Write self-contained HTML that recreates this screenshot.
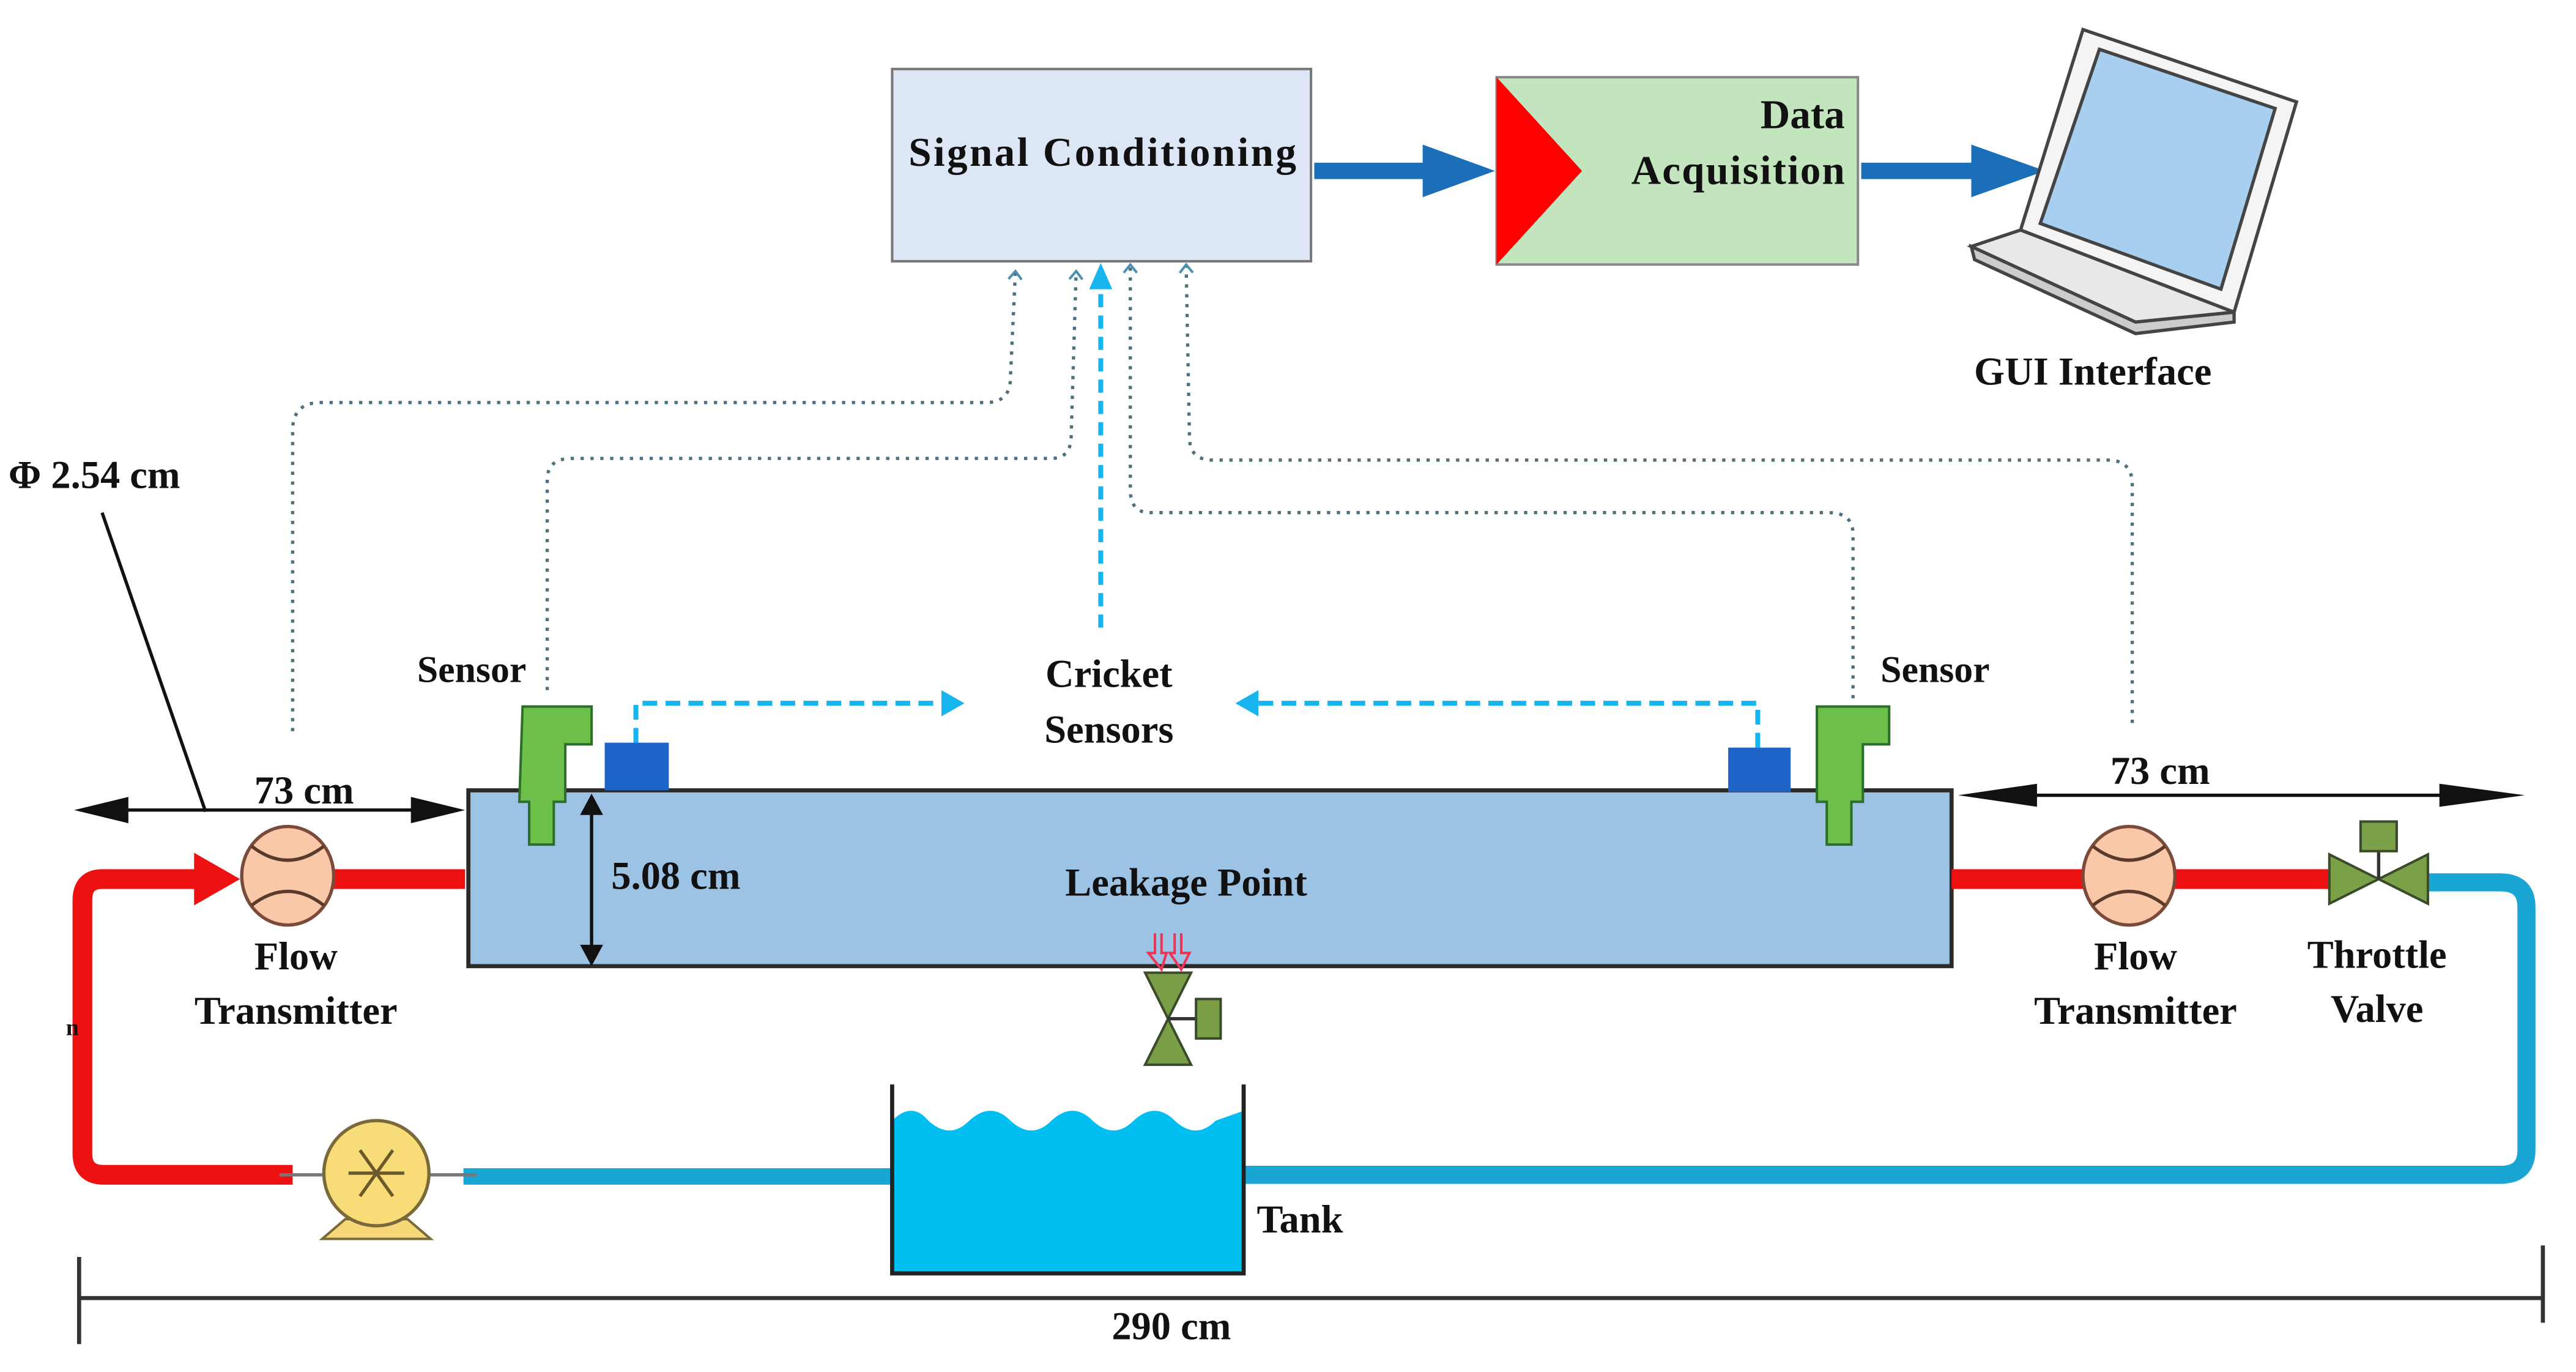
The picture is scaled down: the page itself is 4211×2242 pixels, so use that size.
<!DOCTYPE html>
<html><head><meta charset="utf-8"><style>
html,body{margin:0;padding:0;background:#fff;}
svg{display:block;}
text{font-family:"Liberation Serif",serif;font-weight:bold;fill:#111;}
</style></head><body>
<svg width="4211" height="2242" viewBox="0 0 1568 835" xmlns="http://www.w3.org/2000/svg">
<defs>
<marker id="cy" markerWidth="8" markerHeight="8" refX="6" refY="4" orient="auto" markerUnits="userSpaceOnUse"><path d="M0,0 L8,4 L0,8 Z" fill="#18b4ee"/></marker>
<marker id="ch" markerWidth="10" markerHeight="10" refX="5" refY="5" orient="auto" markerUnits="userSpaceOnUse"><path d="M1,1 L6,5 L1,9" fill="none" stroke="#4a90b0" stroke-width="1.5"/></marker>
</defs>
<rect width="1568" height="835" fill="#fff"/>

<!-- Signal conditioning -->
<rect x="543" y="42" width="255" height="117" fill="#dce6f4" stroke="#777" stroke-width="1.5"/>
<text x="671" y="101" font-size="25" text-anchor="middle" textLength="236">Signal Conditioning</text>
<!-- arrow 1 -->
<line x1="800" y1="104" x2="870" y2="104" stroke="#1a6fb8" stroke-width="10"/>
<path d="M866,88 L910,104 L866,120 Z" fill="#1a6fb8"/>
<!-- Data acquisition -->
<rect x="911" y="47" width="220" height="114" fill="#c3e5bd" stroke="#888" stroke-width="1.5"/>
<path d="M911,47 L963,104 L911,161 Z" fill="#f00"/>
<text x="1123" y="78" font-size="25" text-anchor="end">Data</text>
<text x="1123" y="112" font-size="25" text-anchor="end" textLength="130">Acquisition</text>
<line x1="1133" y1="104" x2="1205" y2="104" stroke="#1a6fb8" stroke-width="10"/>
<path d="M1200,88 L1245,104 L1200,120 Z" fill="#1a6fb8"/>
<!-- laptop -->
<g stroke="#444" stroke-width="2" fill="#f4f4f4">
<path d="M1268,18 L1398,62 L1360,190 L1230,140 Z"/>
<path d="M1278,30 L1385,66 L1352,176 L1242,136 Z" fill="#a9cff0"/>
<path d="M1230,140 L1200,150 L1300,196 L1360,190 Z" fill="#e8e8e8"/>
<path d="M1200,150 L1202,158 L1300,203 L1360,196 L1360,190 L1300,196 Z" fill="#ccc"/>
</g>
<text x="1274" y="234" font-size="24" text-anchor="middle">GUI Interface</text>

<!-- phi -->
<text x="5" y="297" font-size="24">Φ 2.54 cm</text>
<line x1="62" y1="312" x2="125" y2="494" stroke="#111" stroke-width="2"/>

<!-- dotted signal lines -->
<g fill="none" stroke="#50707e" stroke-width="2" stroke-dasharray="2,4">
<path d="M178,445 L178,262 Q178,245 195,245 L600,245 Q615,245 615,230 L618,166" marker-end="url(#ch)"/>
<path d="M333,420 L333,292 Q333,279 348,279 L640,279 Q652,279 652,265 L655,166" marker-end="url(#ch)"/>
<path d="M1128,425 L1128,325 Q1128,312 1113,312 L700,312 Q688,312 688,298 L688,162" marker-end="url(#ch)"/>
<path d="M1298,440 L1298,295 Q1298,280 1283,280 L738,280 Q724,280 724,266 L722,162" marker-end="url(#ch)"/>
</g>
<path d="M670,382 L670,172" stroke="#18b4ee" stroke-width="3" stroke-dasharray="8,5" fill="none"/>
<path d="M663,176 L670,160 L677,176 Z" fill="#18b4ee"/>
<path d="M387,452 L387,428 L578,428" stroke="#18b4ee" stroke-width="3" stroke-dasharray="9,5" fill="none"/>
<path d="M573,420 L587,428 L573,436 Z" fill="#18b4ee"/>
<path d="M1070,455 L1070,428 L762,428" stroke="#18b4ee" stroke-width="3" stroke-dasharray="9,5" fill="none"/>
<path d="M766,420 L752,428 L766,436 Z" fill="#18b4ee"/>
<text x="675" y="418" font-size="24" text-anchor="middle">Cricket</text>
<text x="675" y="452" font-size="24" text-anchor="middle">Sensors</text>
<text x="287" y="415" font-size="23" text-anchor="middle">Sensor</text>
<text x="1178" y="415" font-size="23" text-anchor="middle">Sensor</text>

<!-- pipe body -->
<rect x="285" y="481" width="903" height="107" fill="#9cc3e4" stroke="#2a2a2a" stroke-width="2.5"/>
<rect x="368" y="452" width="39" height="29" fill="#1e64c8"/>
<rect x="1052" y="455" width="38" height="27" fill="#1e64c8"/>
<!-- green sensors -->
<g fill="#6cc04a" stroke="#2d6e2a" stroke-width="1.5">
<path d="M318,430 L360,430 L360,453 L344,453 L344,488 L337,488 L337,514 L322,514 L322,488 L316,488 Z"/>
<path d="M1106,430 L1150,430 L1150,453 L1134,453 L1134,488 L1127,488 L1127,514 L1112,514 L1112,488 L1106,488 Z"/>
</g>
<!-- 5.08 -->
<line x1="360" y1="492" x2="360" y2="578" stroke="#111" stroke-width="2"/>
<path d="M353,496 L360,483 L367,496 Z M353,575 L360,588 L367,575 Z" fill="#111"/>
<text x="372" y="541" font-size="24">5.08 cm</text>
<text x="722" y="545" font-size="24" text-anchor="middle">Leakage Point</text>
<!-- leak valve -->
<path d="M703,568 L703,580 L699,580 L707,590 L710,580 L707,580 L707,568 M715,568 L715,580 L712,580 L719,590 L724,580 L719,580 L719,568" fill="none" stroke="#ee3355" stroke-width="1.5"/>
<path d="M697,592 L725,592 L711,620 Z M697,648 L725,648 L711,620 Z" fill="#7a9e46" stroke="#3a4a2a" stroke-width="1.5"/>
<line x1="711" y1="620" x2="728" y2="620" stroke="#333" stroke-width="2"/>
<rect x="728" y="608" width="15" height="24" fill="#7a9e46" stroke="#3a4a2a" stroke-width="1.5"/>

<!-- 73 cm left -->
<line x1="70" y1="493" x2="258" y2="493" stroke="#111" stroke-width="2"/>
<path d="M45,493 L78,485 L78,501 Z M283,493 L250,485 L250,501 Z" fill="#111"/>
<text x="185" y="489" font-size="24" text-anchor="middle">73 cm</text>
<!-- 73 cm right -->
<line x1="1220" y1="484" x2="1500" y2="484" stroke="#111" stroke-width="2"/>
<path d="M1192,484 L1240,477 L1240,491 Z M1537,484 L1485,477 L1485,491 Z" fill="#111"/>
<text x="1315" y="477" font-size="24" text-anchor="middle">73 cm</text>

<!-- red pipes -->
<path d="M283,535 L200,535" stroke="#ee1111" stroke-width="12" fill="none"/>
<path d="M120,535 L62,535 Q50,535 50,548 L50,702 Q50,715 63,715 L178,715" stroke="#ee1111" stroke-width="12" fill="none"/>
<path d="M118,519 L146,535 L118,551 Z" fill="#ee1111"/>
<path d="M1188,535 L1420,535" stroke="#ee1111" stroke-width="12" fill="none"/>
<!-- blue pipes -->
<path d="M282,716 L545,716" stroke="#1aa6d4" stroke-width="10" fill="none"/>
<path d="M757,715 L1522,715 Q1538,715 1538,700 L1538,552 Q1538,537 1522,537 L1478,537" stroke="#1aa6d4" stroke-width="11" fill="none"/>
<!-- flow transmitters -->
<g fill="#f9c8a8" stroke="#7a4a3a" stroke-width="2">
<ellipse cx="175" cy="533" rx="28" ry="30"/>
<ellipse cx="1296" cy="533" rx="28" ry="30"/>
</g>
<g fill="none" stroke="#5a3a2a" stroke-width="2">
<path d="M153,515 Q175,532 197,515 M153,551 Q175,534 197,551"/>
<path d="M1274,515 Q1296,532 1318,515 M1274,551 Q1296,534 1318,551"/>
</g>
<text x="180" y="590" font-size="24" text-anchor="middle">Flow</text>
<text x="180" y="623" font-size="24" text-anchor="middle">Transmitter</text>
<text x="1300" y="590" font-size="24" text-anchor="middle">Flow</text>
<text x="1300" y="623" font-size="24" text-anchor="middle">Transmitter</text>
<!-- throttle valve -->
<path d="M1418,520 L1418,550 L1448,535 Z M1478,520 L1478,550 L1448,535 Z" fill="#7aa048" stroke="#3a4a2a" stroke-width="1.5"/>
<line x1="1448" y1="535" x2="1448" y2="517" stroke="#333" stroke-width="2"/>
<rect x="1437" y="500" width="22" height="18" fill="#7aa048" stroke="#3a4a2a" stroke-width="1.5"/>
<text x="1447" y="589" font-size="24" text-anchor="middle">Throttle</text>
<text x="1447" y="622" font-size="24" text-anchor="middle">Valve</text>
<text x="40" y="630" font-size="14" font-weight="normal">n</text>

<!-- pump -->
<path d="M210,742 L248,742 L262,754 L196,754 Z" fill="#f6d878" stroke="#7a6a3a" stroke-width="1.5"/>
<line x1="170" y1="715" x2="290" y2="715" stroke="#777" stroke-width="2"/>
<ellipse cx="229" cy="714" rx="32" ry="32" fill="#f8dc78" stroke="#7a6a3a" stroke-width="2"/>
<path d="M212,714 L246,714 M219,700 L239,728 M239,700 L219,728" stroke="#6a5a2a" stroke-width="2"/>

<!-- tank -->
<path d="M543,682 Q555,670 565,682 Q578,694 590,682 Q603,670 615,682 Q628,694 640,682 Q653,670 665,682 Q678,694 690,682 Q703,670 715,682 Q728,694 740,682 L757,676 L757,775 L543,775 Z" fill="#00bff0"/>
<path d="M543,660 L543,775 L757,775 L757,660" fill="none" stroke="#222" stroke-width="2.5"/>
<text x="765" y="750" font-size="24">Tank</text>

<!-- bottom dimension -->
<line x1="48" y1="790" x2="1548" y2="790" stroke="#333" stroke-width="2.5"/>
<line x1="48" y1="765" x2="48" y2="818" stroke="#333" stroke-width="2.5"/>
<line x1="1548" y1="758" x2="1548" y2="805" stroke="#333" stroke-width="2.5"/>
<text x="713" y="815" font-size="24" text-anchor="middle">290 cm</text>
</svg>
</body></html>
